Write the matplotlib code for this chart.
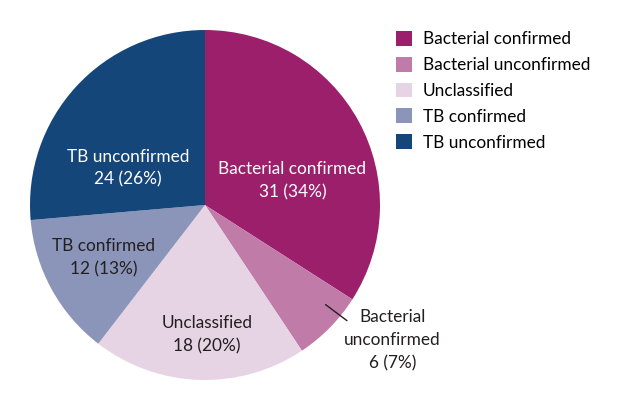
import matplotlib
matplotlib.use("Agg")
import matplotlib.pyplot as plt
from matplotlib.patches import Patch

# data
categories = ["Bacterial confirmed", "Bacterial unconfirmed", "Unclassified",
              "TB confirmed", "TB unconfirmed"]
counts = [31, 6, 18, 12, 24]
pct_labels = ["31 (34%)", "6 (7%)", "18 (20%)", "12 (13%)", "24 (26%)"]
slice_labels = ["Bacterial confirmed", "Bacterial\nunconfirmed", "Unclassified",
                "TB confirmed", "TB unconfirmed"]

colors = ["#9c1f6b", "#c17ba8", "#e6d4e4", "#8b95b9", "#15467a"]
text_colors = ["white", "#231f20", "#231f20", "#231f20", "white"]

# label positions in axes data coords (pie radius = 1)
label_xy = [(0.50, 0.14), (1.07, -0.77), (0.01, -0.74), (-0.58, -0.30), (-0.44, 0.21)]

plt.rcParams["font.family"] = ["Lato", "DejaVu Sans"]

fig = plt.figure(figsize=(6.32, 4.15), dpi=100)
ax = fig.add_axes([30 / 632, 35 / 415, 350 / 632, 350 / 415])

wedges, _ = ax.pie(counts, colors=colors, startangle=90, counterclock=False,
                   radius=1, wedgeprops=dict(linewidth=0))
ax.set_xlim(-1, 1)
ax.set_ylim(-1, 1)
ax.set_aspect("equal")
ax.axis("off")

for i, (x, y) in enumerate(label_xy):
    ax.text(x, y, slice_labels[i] + "\n" + pct_labels[i], ha="center", va="center",
            color=text_colors[i], fontsize=12.4, linespacing=1.55)

# leader line for the small slice
ax.plot([0.69, 0.81], [-0.57, -0.66], color="#231f20", linewidth=1)

handles = [Patch(facecolor=c, edgecolor="none") for c in colors]
fig.legend(handles, categories, loc="upper left", bbox_to_anchor=(396 / 632, 1 - 31 / 415),
           frameon=False, fontsize=12.4, handlelength=0.95, handleheight=0.95,
           handletextpad=0.6, labelspacing=0.55, borderaxespad=0, borderpad=0)

fig.savefig("out.png", dpi=100, facecolor="white")
